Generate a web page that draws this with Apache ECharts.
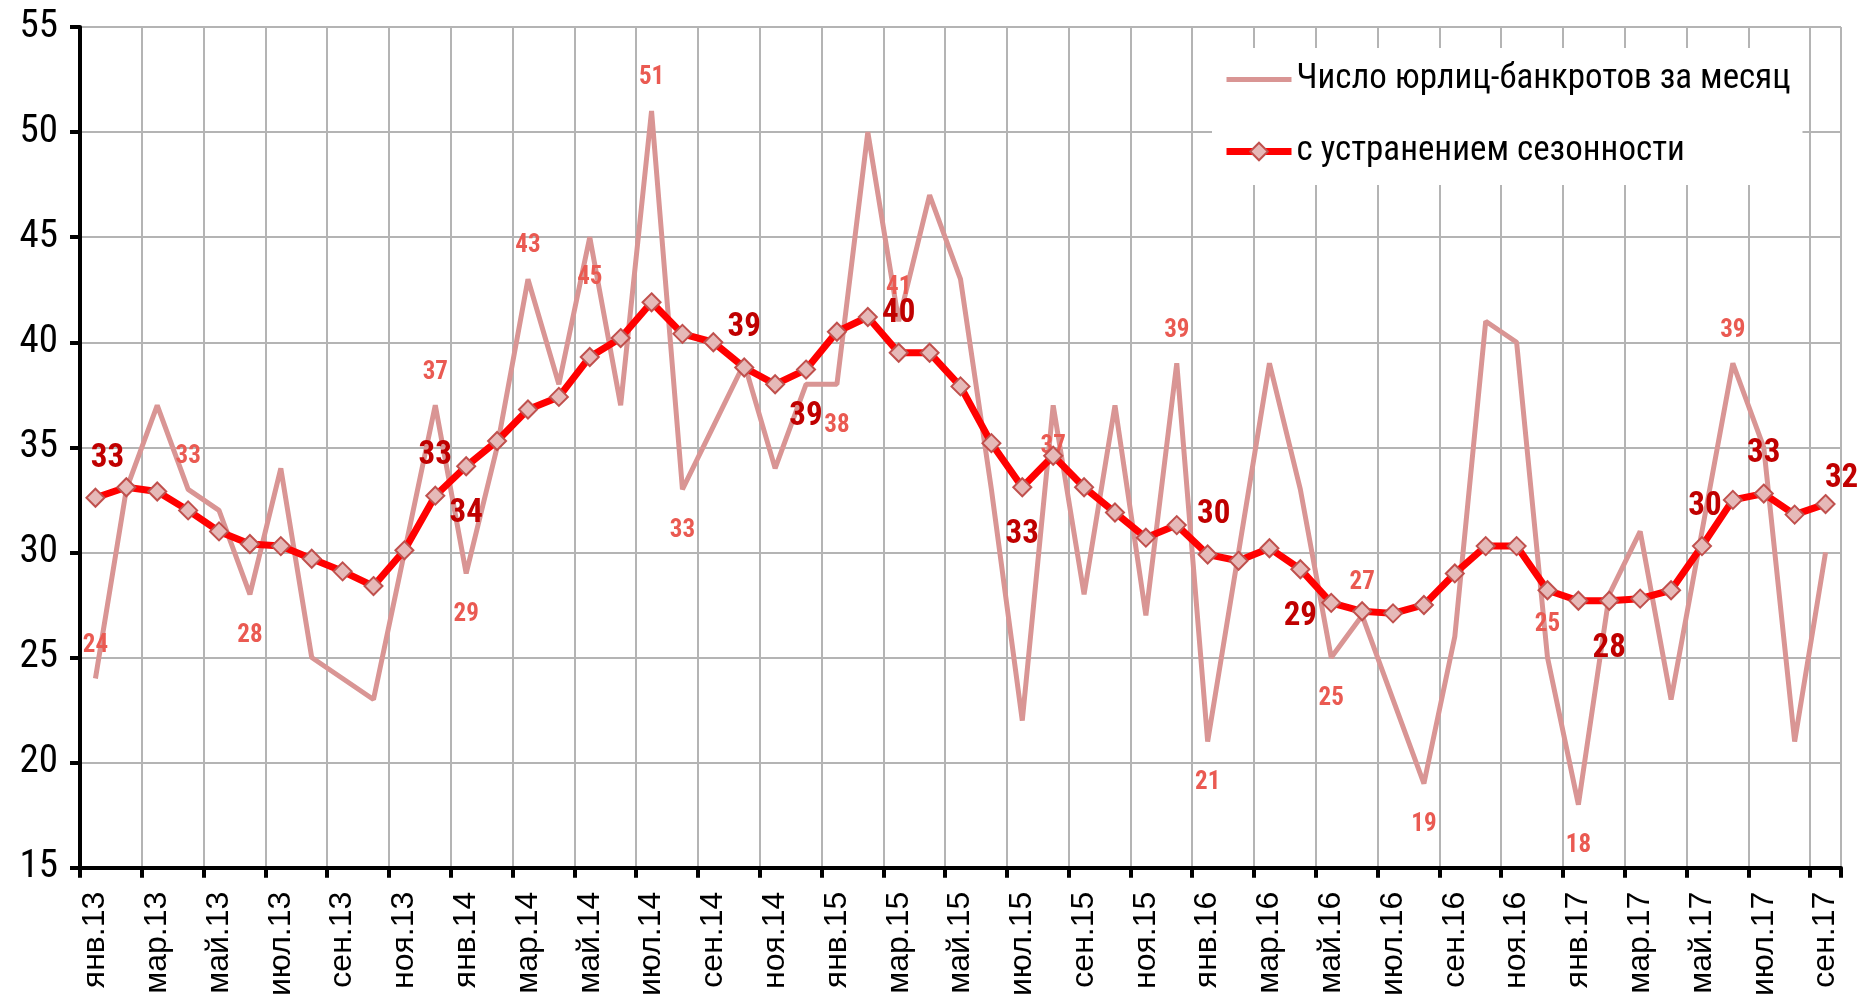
<!DOCTYPE html>
<html>
<head>
<meta charset="utf-8">
<title>Число юрлиц-банкротов за месяц</title>
<script src="https://cdn.jsdelivr.net/npm/echarts@6/dist/echarts.min.js"></script>
<style>
  html, body { margin: 0; padding: 0; background: #fff; }
  #chart { width: 1862px; height: 999px; }
</style>
</head>
<body>
<div id="chart"></div>
<script>
var months = [
  'янв.13', 'фев.13', 'мар.13', 'апр.13', 'май.13', 'июн.13', 'июл.13', 'авг.13', 'сен.13', 'окт.13', 'ноя.13', 'дек.13',
  'янв.14', 'фев.14', 'мар.14', 'апр.14', 'май.14', 'июн.14', 'июл.14', 'авг.14', 'сен.14', 'окт.14', 'ноя.14', 'дек.14',
  'янв.15', 'фев.15', 'мар.15', 'апр.15', 'май.15', 'июн.15', 'июл.15', 'авг.15', 'сен.15', 'окт.15', 'ноя.15', 'дек.15',
  'янв.16', 'фев.16', 'мар.16', 'апр.16', 'май.16', 'июн.16', 'июл.16', 'авг.16', 'сен.16', 'окт.16', 'ноя.16', 'дек.16',
  'янв.17', 'фев.17', 'мар.17', 'апр.17', 'май.17', 'июн.17', 'июл.17', 'авг.17', 'сен.17'
]

// число юрлиц-банкротов за месяц
var bankrupts = [
  24, 33, 37, 33, 32, 28, 34, 25, 24, 23, 30, 37,
  29, 35, 43, 38, 45, 37, 51, 33, 36, 39, 34, 38,
  38, 50, 41, 47, 43, 33, 22, 37, 28, 37, 27, 39,
  21, 30, 39, 33, 25, 27, 23, 19, 26, 41, 40, 25,
  18, 28, 31, 23, 31, 39, 35, 21, 30
]

// с устранением сезонности
var seasonAdj = [
  32.6, 33.1, 32.9, 32.0, 31.0, 30.4, 30.3, 29.7, 29.1, 28.4, 30.1, 32.7,
  34.1, 35.3, 36.8, 37.4, 39.3, 40.2, 41.9, 40.4, 40.0, 38.8, 38.0, 38.7,
  40.5, 41.2, 39.5, 39.5, 37.9, 35.2, 33.1, 34.6, 33.1, 31.9, 30.7, 31.3,
  29.9, 29.6, 30.2, 29.2, 27.6, 27.2, 27.1, 27.5, 29.0, 30.3, 30.3, 28.2,
  27.7, 27.7, 27.8, 28.2, 30.3, 32.5, 32.8, 31.8, 32.3
]

// which points carry a value label
var bankruptsLabelUp = [0, 3, 11, 14, 18, 26, 35, 41, 47, 53]
var bankruptsLabelDown = [5, 12, 16, 19, 24, 31, 36, 40, 43, 48]
var seasonAdjLabelUp = [0, 11, 21, 26, 36, 52, 54, 56]
var seasonAdjLabelDown = [12, 23, 30, 39, 49]

var yTicks = { min: 15, max: 55, step: 5 }

;(function () {
  var myChart = echarts.init(document.getElementById('chart'))
  var narrow = '"Roboto Condensed", "Liberation Sans", sans-serif'
  var plain = '"Liberation Sans", Arial, sans-serif'
  // small nudges so the labels sit where Excel put them
  var labelShift = { 0: [12, 0], 36: [6, 0], 52: [3, 0], 56: [16, 14] }

  var rawData = bankrupts.map(function (v, i) {
    var item = { value: v }
    if (bankruptsLabelUp.indexOf(i) > -1) {
      item.label = { show: true, position: 'top', distance: 20 }
    } else if (bankruptsLabelDown.indexOf(i) > -1) {
      item.label = { show: true, position: 'bottom', distance: 28 }
    }
    return item
  })

  var adjData = seasonAdj.map(function (v, i) {
    var item = { value: v }
    var off = labelShift[i] || [0, 0]
    if (seasonAdjLabelUp.indexOf(i) > -1) {
      item.label = { show: true, position: 'top', distance: 13, offset: off }
    } else if (seasonAdjLabelDown.indexOf(i) > -1) {
      item.label = { show: true, position: 'bottom', distance: 21, offset: off }
    }
    return item
  })

  var option = {
    animation: false,
    backgroundColor: '#fff',
    grid: { left: 80, right: 21, top: 27, bottom: 128 },
    legend: {
      orient: 'vertical',
      left: 1212,
      top: 48,
      backgroundColor: '#fff',
      padding: [14, 12, 16, 11],
      itemWidth: 65,
      itemHeight: 22,
      itemGap: 37,
      textStyle: { fontFamily: narrow, fontSize: 35, color: '#000' },
      data: [
        { name: 'Число юрлиц-банкротов за месяц', lineStyle: { width: 5 } },
        { name: 'с устранением сезонности', lineStyle: { width: 7 } }
      ]
    },
    xAxis: {
      type: 'category',
      data: months,
      boundaryGap: true,
      axisLine: { lineStyle: { color: '#000', width: 4 } },
      axisTick: { show: true, interval: 1, length: 10, lineStyle: { color: '#000', width: 4 } },
      axisLabel: {
        interval: 1,
        rotate: 90,
        margin: 24,
        fontFamily: plain,
        fontSize: 32,
        color: '#000'
      },
      splitLine: { show: true, interval: 1, lineStyle: { color: '#b4b4b4', width: 2 } }
    },
    yAxis: {
      type: 'value',
      min: yTicks.min,
      max: yTicks.max,
      interval: yTicks.step,
      axisLine: { show: true, lineStyle: { color: '#000', width: 4 } },
      axisTick: { show: true, length: 10, lineStyle: { color: '#000', width: 4 } },
      axisLabel: { margin: 22, fontFamily: narrow, fontSize: 39, color: '#000' },
      splitLine: { show: true, lineStyle: { color: '#b4b4b4', width: 2 } }
    },
    series: [{
      name: 'Число юрлиц-банкротов за месяц',
      type: 'line',
      data: rawData,
      symbol: 'circle',
      symbolSize: 1,
      showAllSymbol: true,
      itemStyle: { color: 'rgba(0,0,0,0)' },
      lineStyle: { color: '#d99594', width: 5 },
      label: {
        show: false,
        fontFamily: narrow,
        fontSize: 25,
        fontWeight: 'bold',
        color: '#ea5a52',
        formatter: function (p) { return Math.round(p.value) }
      },
      z: 2
    }, {
      name: 'с устранением сезонности',
      type: 'line',
      data: adjData,
      symbol: 'diamond',
      symbolSize: 18,
      showAllSymbol: true,
      itemStyle: { color: '#e6b9b8', borderColor: '#c0504d', borderWidth: 2 },
      lineStyle: { color: '#ff0000', width: 7 },
      label: {
        show: false,
        fontFamily: narrow,
        fontSize: 33,
        fontWeight: 'bold',
        color: '#c00000',
        formatter: function (p) { return Math.round(p.value) }
      },
      z: 3
    }]
  }
  myChart.setOption(option)
})()
</script>
</body>
</html>
